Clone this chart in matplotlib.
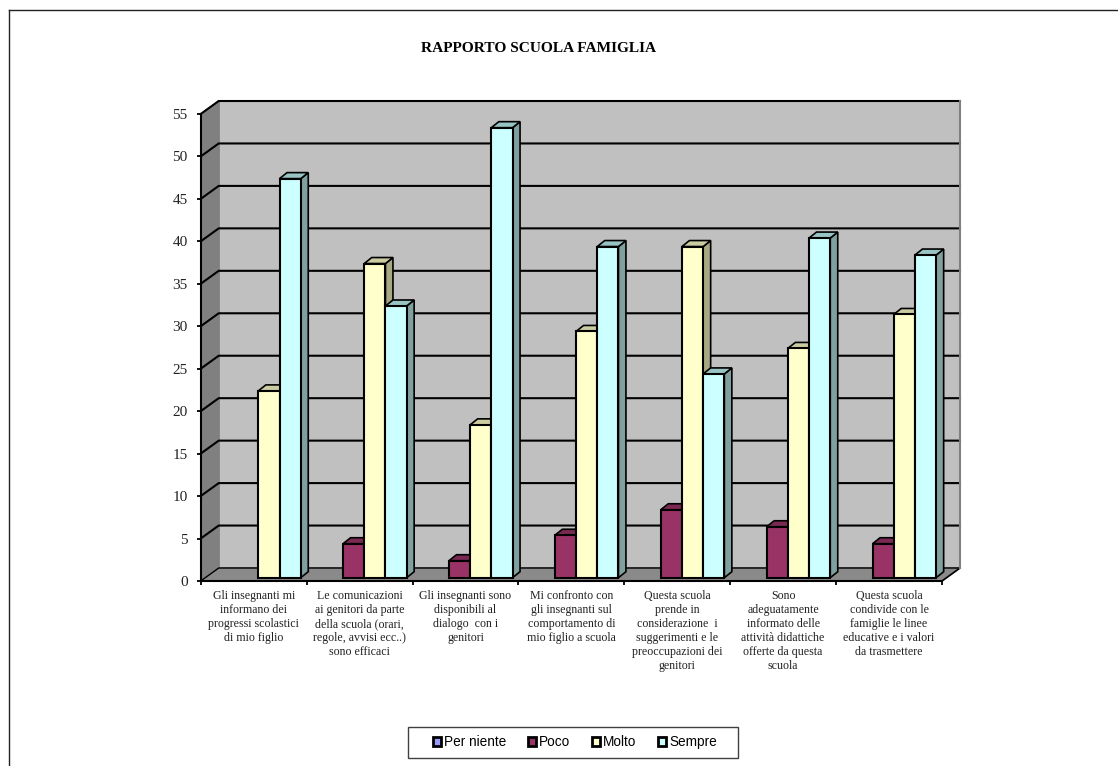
import matplotlib
matplotlib.use('Agg')
from matplotlib import pyplot as plt
from matplotlib.lines import Line2D
from matplotlib.patches import Patch, Rectangle
import numpy as np

title = 'RAPPORTO SCUOLA FAMIGLIA'
categories = [
    'Gli insegnanti mi\ninformano dei\nprogressi scolastici\ndi mio figlio',
    'Le comunicazioni\nai genitori da parte\ndella scuola (orari,\nregole, avvisi ecc..)\nsono efficaci',
    'Gli insegnanti sono\ndisponibili al\ndialogo  con i\ngenitori',
    'Mi confronto con\ngli insegnanti sul\ncomportamento di\nmio figlio a scuola',
    'Questa scuola\nprende in\nconsiderazione  i\nsuggerimenti e le\npreoccupazioni dei\ngenitori',
    'Sono\nadeguatamente\ninformato delle\nattività didattiche\nofferte da questa\nscuola',
    'Questa scuola\ncondivide con le\nfamiglie le linee\neducative e i valori\nda trasmettere',
]
series_names = ['Per niente', 'Poco', 'Molto', 'Sempre']
per_niente = [0, 0, 0, 0, 0, 0, 0]
poco = [0, 4, 2, 5, 8, 6, 4]
molto = [22, 37, 18, 29, 39, 27, 31]
sempre = [47, 32, 53, 39, 24, 40, 38]
y_ticks = list(range(0, 60, 5))

front_colors = ['#9999FF', '#993366', '#FFFFCC', '#CCFFFF']
top_colors = ['#7A7ACC', '#7A2952', '#CCCCA3', '#99C4C4']
side_colors = ['#6666AA', '#662244', '#A8A882', '#80A0A0']

W, H = 1118, 766
fig = plt.figure(figsize=(W / 100, H / 100), dpi=100)
x0, x1, y0, y55 = 200.7, 942.0, 581.0, 114.0
ax = fig.add_axes([x0 / W, 1 - y0 / H, (x1 - x0) / W, (y0 - y55) / H])
ax.set_xlim(0, 7)
ax.set_ylim(0, 55)
ax.patch.set_visible(False)

# sizes of the fake 3d in data units
px_x = 7 / (x1 - x0)
px_y = 55 / (y0 - y55)
wall_dx, wall_dy = 18 * px_x, 13 * px_y
bar_w = 21.2 * px_x
bar_dx, bar_dy = 7.5 * px_x, 6 * px_y
bar_base = 3.3 * px_y
group_off = 0.144


def face(xs, ys, color, lw=1.5, ec='black', z=1):
    ax.fill(xs, ys, facecolor=color, edgecolor=ec, linewidth=lw, clip_on=False, zorder=z, joinstyle='miter')


# walls and floor
face([wall_dx, 7 + wall_dx, 7 + wall_dx, wall_dx], [wall_dy, wall_dy, 55 + wall_dy, 55 + wall_dy], '#C0C0C0', lw=1.2, ec='#808080')
face([0, wall_dx, wall_dx, 0], [0, wall_dy, 55 + wall_dy, 55], '#808080', lw=1, ec='#808080')
face([0, 7, 7 + wall_dx, wall_dx], [0, 0, wall_dy, wall_dy], '#8A8A8A', lw=1, ec='#8A8A8A')

for v in y_ticks:
    ax.plot([0, wall_dx, 7 + wall_dx], [v, v + wall_dy, v + wall_dy], color='black', lw=1.5 if v else 1, clip_on=False, zorder=2, solid_joinstyle='miter')
ax.plot([7, 7 + wall_dx], [0, wall_dy], color='black', lw=1.2, clip_on=False, zorder=2)
ax.plot([7 + wall_dx, 7 + wall_dx], [wall_dy, 55 + wall_dy], color='#808080', lw=1.5, clip_on=False, zorder=2)

# bars, left to right so each one hides the side of the previous
all_series = [per_niente, poco, molto, sempre]
z = 3
for c in range(len(categories)):
    for s, values in enumerate(all_series):
        v = values[c]
        if v == 0:
            continue
        left = c + group_off + s * bar_w
        right = left + bar_w
        top = bar_base + v
        face([right, right + bar_dx, right + bar_dx, right], [bar_base, bar_base + bar_dy, top + bar_dy, top], side_colors[s], lw=1.2, z=z)
        face([left, left + bar_dx, right + bar_dx, right], [top, top + bar_dy, top + bar_dy, top], top_colors[s], lw=1.2, z=z)
        ax.bar(left, v, bar_w, bottom=bar_base, align='edge', color=front_colors[s], edgecolor='black', linewidth=1.5, zorder=z, clip_on=False)
        z += 1

for name in ['top', 'right']:
    ax.spines[name].set_visible(False)
for name in ['left', 'bottom']:
    ax.spines[name].set_linewidth(1.5)
    ax.spines[name].set_zorder(2.5)

ax.set_yticks(y_ticks)
ax.tick_params(axis='y', labelsize=11, length=3, width=1.3, pad=6.5, labelcolor='#222222')
for t in ax.get_yticklabels():
    t.set_fontfamily('Liberation Serif')
ax.set_xticks(range(8))
ax.set_xticklabels([])
ax.tick_params(axis='x', which='major', length=3, width=1.3)
ax.set_xticks(np.arange(7) + 0.5, minor=True)
ax.set_xticklabels(categories, minor=True, fontfamily='Liberation Serif', fontsize=8.6, linespacing=1.215, color='#222222', ha='center', va='top')
ax.tick_params(axis='x', which='minor', length=0, pad=6.7)

fig.text(539 / W, 1 - 48 / H, title, family='Liberation Serif', weight='bold', fontsize=11.1, ha='center', va='center', color='black')

# legend, the box is drawn apart because its padding is not even
fig.add_artist(Rectangle((408 / W, 1 - 757.5 / H), 330 / W, 31 / H, transform=fig.transFigure, facecolor='white', edgecolor='#404040', linewidth=1))
handles = [Patch(facecolor=front_colors[i], edgecolor='black', linewidth=2, label=series_names[i]) for i in range(4)]
leg = fig.legend(handles=handles, ncol=4, loc='center', bbox_to_anchor=(575 / W, 1 - 742 / H), frameon=False,
                 prop={'family': 'Liberation Sans', 'size': 9.8},
                 handlelength=0.6, handleheight=0.6, handletextpad=0.2, columnspacing=1.6, borderpad=0, borderaxespad=0)

# outer border of the chart object, runs off the page at right and bottom
fig.add_artist(Line2D([8.5 / W, 8.5 / W], [0, 1 - 9.5 / H], color='#222222', lw=1))
fig.add_artist(Line2D([8.5 / W, 1], [1 - 9.5 / H, 1 - 9.5 / H], color='#222222', lw=1))

fig.savefig('out.png', dpi=100)
